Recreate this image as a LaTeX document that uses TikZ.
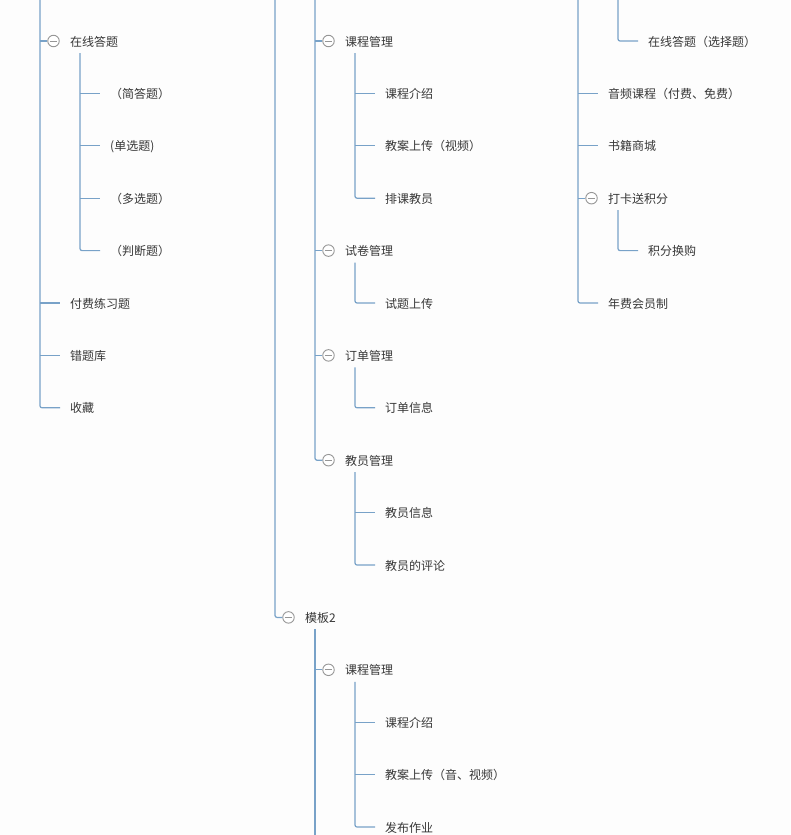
\documentclass[tikz,border=0pt]{standalone}
\usepackage{fontspec}
\newfontfamily\cjk{Noto Sans CJK SC}
\definecolor{linkc}{RGB}{120,162,200}
\definecolor{txtc}{RGB}{55,55,55}
\definecolor{foldc}{RGB}{150,150,150}
\definecolor{bgc}{RGB}{253,253,253}
\begin{document}
\begin{tikzpicture}[x=1pt,y=-1pt,
  link/.style={draw=linkc,line width=1.2pt,rounded corners=2pt},
  item/.style={anchor=west,inner xsep=10pt,inner ysep=0pt,text=txtc,
    font=\cjk\fontsize{12pt}{14pt}\selectfont,text height=11pt,text depth=1pt},
  fold/.style={circle,draw=foldc,fill=white,line width=0.9pt,minimum size=11.5pt,inner sep=0pt,
    path picture={\draw[foldc,line width=0.9pt]
      ([xshift=-3.6pt]path picture bounding box.center) --
      ([xshift=3.6pt]path picture bounding box.center);}}
]
\fill[bgc] (0,0) rectangle (790,835);
\useasboundingbox (0,0) rectangle (790,835);

% ---------------- left column ----------------
\coordinate (Ltop) at (40,0);
\node[fold] (Lc0) at (53.5,41) {};
\node[item] (L0) at (60,41) {在线答题};
\coordinate (L0s) at (80,53);
\node[item] (L1) at (100,93.4) {（简答题）};
\node[item] (L2) at (100,145.8) {(单选题)};
\node[item] (L3) at (100,198.2) {（多选题）};
\node[item] (L4) at (100,250.6) {（判断题）};
\node[item] (L5) at (60,303) {付费练习题};
\node[item] (L6) at (60,355.4) {错题库};
\node[item] (L7) at (60,407.8) {收藏};

\draw[link] (Ltop) |- (L7.west);
\draw[link] (Lc0.west -| Ltop) -- (Lc0.west);
\draw[link] (L5.west -| Ltop) -- (L5.west);
\draw[link] (L6.west -| Ltop) -- (L6.west);
\draw[link] (L0s) |- (L4.west);
\draw[link] (L1.west -| L0s) -- (L1.west);
\draw[link] (L2.west -| L0s) -- (L2.west);
\draw[link] (L3.west -| L0s) -- (L3.west);

% ---------------- middle column ----------------
\coordinate (Mtop) at (275,0);
\coordinate (Ntop) at (315,0);
\node[fold] (Mc0) at (328.5,41) {};
\node[item] (M0) at (335,41) {课程管理};
\coordinate (M0s) at (355,53);
\node[item] (M1) at (375,93.4) {课程介绍};
\node[item] (M2) at (375,145.8) {教案上传（视频）};
\node[item] (M3) at (375,198.2) {排课教员};
\node[fold] (Mc4) at (328.5,250.6) {};
\node[item] (M4) at (335,250.6) {试卷管理};
\coordinate (M4s) at (355,262.6);
\node[item] (M5) at (375,303) {试题上传};
\node[fold] (Mc6) at (328.5,355.4) {};
\node[item] (M6) at (335,355.4) {订单管理};
\coordinate (M6s) at (355,367.4);
\node[item] (M7) at (375,407.8) {订单信息};
\node[fold] (Mc8) at (328.5,460.2) {};
\node[item] (M8) at (335,460.2) {教员管理};
\coordinate (M8s) at (355,472.2);
\node[item] (M9) at (375,512.6) {教员信息};
\node[item] (M10) at (375,565) {教员的评论};

\node[fold] (Tc) at (288.5,617.4) {};
\node[item] (T) at (295,617.4) {模板2};
\coordinate (Ts) at (315,629.4);
\coordinate (Tbot) at (315,835);
\node[fold] (Uc0) at (328.5,669.8) {};
\node[item] (U0) at (335,669.8) {课程管理};
\coordinate (U0s) at (355,681.8);
\node[item] (U1) at (375,722.2) {课程介绍};
\node[item] (U2) at (375,774.6) {教案上传（音、视频）};
\node[item] (U3) at (375,827) {发布作业};

\draw[link] (Mtop) |- (Tc.west);
\draw[link] (Ntop) |- (Mc8.west);
\draw[link] (Mc0.west -| Ntop) -- (Mc0.west);
\draw[link] (Mc4.west -| Ntop) -- (Mc4.west);
\draw[link] (Mc6.west -| Ntop) -- (Mc6.west);
\draw[link] (M0s) |- (M3.west);
\draw[link] (M1.west -| M0s) -- (M1.west);
\draw[link] (M2.west -| M0s) -- (M2.west);
\draw[link] (M4s) |- (M5.west);
\draw[link] (M6s) |- (M7.west);
\draw[link] (M8s) |- (M10.west);
\draw[link] (M9.west -| M8s) -- (M9.west);
\draw[link] (Ts) -- (Tbot);
\draw[link] (Uc0.west -| Ts) -- (Uc0.west);
\draw[link] (U0s) |- (U3.west);
\draw[link] (U1.west -| U0s) -- (U1.west);
\draw[link] (U2.west -| U0s) -- (U2.west);

% ---------------- right column ----------------
\coordinate (Rtop) at (578,0);
\coordinate (Stop) at (618,0);
\node[item] (S0) at (638,41) {在线答题（选择题）};
\node[item] (R1) at (598,93.4) {音频课程（付费、免费）};
\node[item] (R2) at (598,145.8) {书籍商城};
\node[fold] (Rc3) at (591.5,198.2) {};
\node[item] (R3) at (598,198.2) {打卡送积分};
\coordinate (R3s) at (618,210.2);
\node[item] (R4) at (638,250.6) {积分换购};
\node[item] (R5) at (598,303) {年费会员制};

\draw[link] (Stop) |- (S0.west);
\draw[link] (Rtop) |- (R5.west);
\draw[link] (R1.west -| Rtop) -- (R1.west);
\draw[link] (R2.west -| Rtop) -- (R2.west);
\draw[link] (Rc3.west -| Rtop) -- (Rc3.west);
\draw[link] (R3s) |- (R4.west);
\end{tikzpicture}
\end{document}
